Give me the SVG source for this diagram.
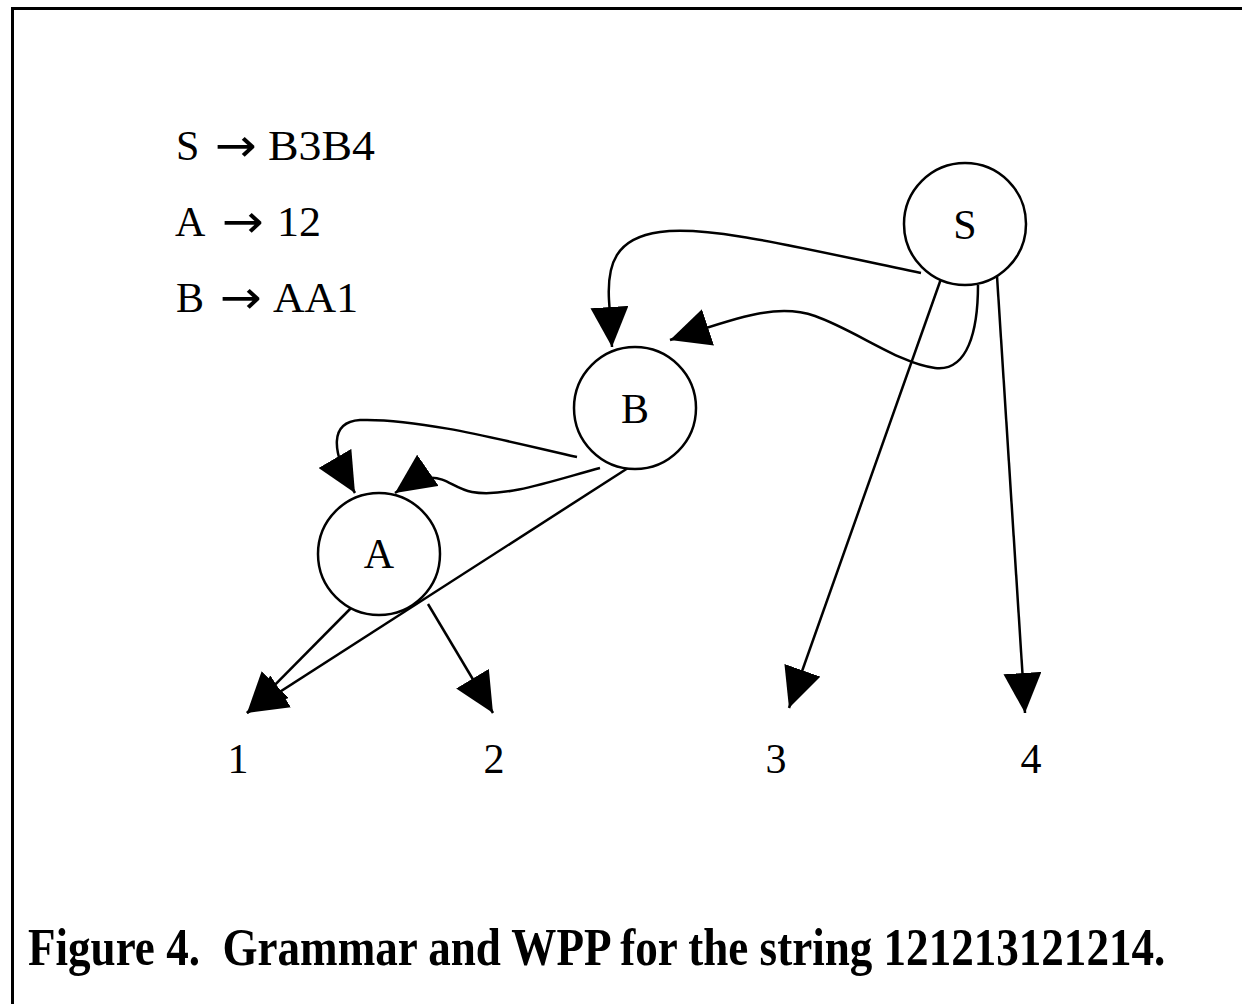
<svg xmlns="http://www.w3.org/2000/svg" width="1242" height="1004" viewBox="0 0 1242 1004">
<style>
.node{fill:#fff;stroke:#000;stroke-width:2.5}
.lbl{font-family:"Liberation Serif","Times New Roman",serif;font-size:42px;fill:#000}
.arr{font-family:"DejaVu Sans",sans-serif;font-size:46px;fill:#000}
.edge{fill:none;stroke:#000;stroke-width:2.5}
.cap{font-family:"Liberation Serif","Times New Roman",serif;font-size:52px;font-weight:bold;fill:#000}
</style>
<defs>
<marker id="ah" markerUnits="userSpaceOnUse" markerWidth="42" markerHeight="38" refX="40" refY="19" orient="auto">
<path d="M0,0 L40,19 L0,38 z" fill="#000"/>
</marker>
</defs>
<rect x="0" y="0" width="1242" height="1004" fill="#fff"/>
<rect x="12.5" y="8.5" width="1260" height="1030" fill="none" stroke="#000" stroke-width="3"/>
<g id="grammar">
<text class="lbl" x="176" y="160">S</text>
<text class="arr" x="215" y="161" textLength="42" lengthAdjust="spacingAndGlyphs">→</text>
<text class="lbl" x="268" y="160" textLength="107" lengthAdjust="spacingAndGlyphs">B3B4</text>
<text class="lbl" x="175" y="236">A</text>
<text class="arr" x="222" y="237" textLength="42" lengthAdjust="spacingAndGlyphs">→</text>
<text class="lbl" x="277" y="236" textLength="44" lengthAdjust="spacingAndGlyphs">12</text>
<text class="lbl" x="176" y="312">B</text>
<text class="arr" x="220" y="313" textLength="42" lengthAdjust="spacingAndGlyphs">→</text>
<text class="lbl" x="273" y="312" textLength="85" lengthAdjust="spacingAndGlyphs">AA1</text>
</g>
<g id="connectors">
<path class="edge" marker-end="url(#ah)" d="M921,273 C800,248 710,225 660,232 C615,238 607,265 609,300 L612,347"/>
<path class="edge" marker-end="url(#ah)" d="M978,285 C978,330 968,372 935,368 C900,364 855,330 815,316 C775,302 730,320 670,340"/>
<path class="edge" marker-end="url(#ah)" d="M942,276 L789,708"/>
<path class="edge" marker-end="url(#ah)" d="M997,276 L1025,713"/>
<path class="edge" marker-end="url(#ah)" d="M577,457 C510,442 420,418 360,420 C330,422 330,450 355,493"/>
<path class="edge" marker-end="url(#ah)" d="M600,468 C555,480 505,498 472,492 C445,487 440,462 395,493"/>
<path class="edge" marker-end="url(#ah)" d="M628,468 L247,713"/>
<path class="edge" marker-end="url(#ah)" d="M355,604 L247,713"/>
<path class="edge" marker-end="url(#ah)" d="M428,604 L493,713"/>
</g>
<g id="node-S">
<circle class="node" cx="965" cy="224" r="61"/>
<text class="lbl" x="965" y="239" text-anchor="middle">S</text>
</g>
<g id="node-B">
<circle class="node" cx="635" cy="408" r="61"/>
<text class="lbl" x="635" y="423" text-anchor="middle">B</text>
</g>
<g id="node-A">
<circle class="node" cx="379" cy="554" r="61"/>
<text class="lbl" x="379" y="568" text-anchor="middle">A</text>
</g>
<g id="leaf-1"><text class="lbl" x="238" y="773" text-anchor="middle">1</text></g>
<g id="leaf-2"><text class="lbl" x="494" y="773" text-anchor="middle">2</text></g>
<g id="leaf-3"><text class="lbl" x="776" y="773" text-anchor="middle">3</text></g>
<g id="leaf-4"><text class="lbl" x="1031" y="773" text-anchor="middle">4</text></g>
<text class="cap" transform="matrix(0.867,0,0,1,28,965)" x="0" y="0" xml:space="preserve">Figure 4.  Grammar and WPP for the string 121213121214.</text>
</svg>
